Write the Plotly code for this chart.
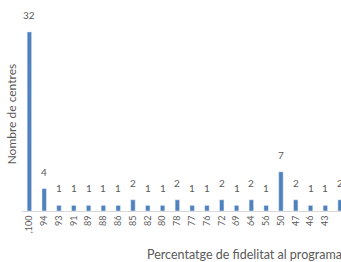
import plotly.graph_objects as go

categories = [",100", "94", "93", "91", "89", "88", "86", "85", "82", "80", "78",
              "77", "76", "72", "69", "64", "56", "50", "47", "46", "43", "41"]
values = [32, 4, 1, 1, 1, 1, 1, 2, 1, 1, 2, 1, 1, 2, 1, 2, 1, 7, 2, 1, 1, 2]

FONT = "Lato, 'Open Sans', sans-serif"
GREY = "#595959"

positions = list(range(len(categories)))

fig = go.Figure()
fig.add_trace(go.Bar(
    x=positions, y=values, marker_color="#4F81BD", width=0.3,
    hoverinfo="skip",
))

for i, v in zip(positions, values):
    fig.add_annotation(x=i, y=v, text=str(v), showarrow=False, yshift=17,
                       font=dict(family=FONT, size=10, color=GREY))

fig.add_annotation(xref="paper", yref="paper", x=-0.03, y=0.46,
                   text="Nombre de centres", textangle=-90, showarrow=False,
                   xanchor="center", yanchor="middle",
                   font=dict(family=FONT, size=12, color=GREY))
fig.add_annotation(xref="paper", yref="paper", x=0.387, y=-0.204,
                   text="Percentatge de fidelitat al programa", showarrow=False,
                   xanchor="left", yanchor="middle",
                   font=dict(family=FONT, size=12.5, color=GREY))

fig.update_layout(
    width=341, height=262,
    margin=dict(l=22, r=0, t=0, b=51),
    paper_bgcolor="white", plot_bgcolor="white",
    showlegend=False,
    xaxis=dict(range=[-0.5, 21.06], showline=True, linecolor="#d9d9d9", linewidth=1,
               tickmode="array", tickvals=positions, ticktext=categories,
               tickangle=-90, tickfont=dict(family=FONT, size=9, color=GREY),
               showgrid=False, zeroline=False, ticks="", fixedrange=True,
               automargin=False),
    yaxis=dict(range=[0, 37.7], showticklabels=False, showgrid=False,
               zeroline=False, showline=False, fixedrange=True, automargin=False),
)

fig.write_html("out.html", config={"displayModeBar": False},
               post_script="document.body.style.margin='0';document.body.style.overflow='hidden';")
